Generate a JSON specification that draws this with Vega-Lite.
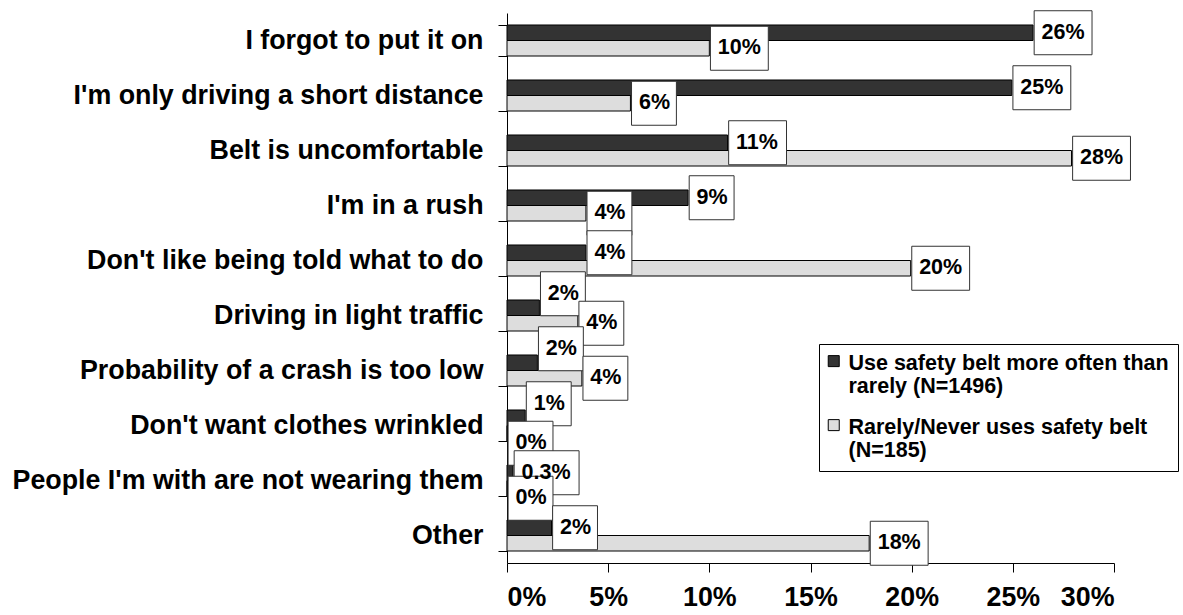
{
  "$schema": "https://vega.github.io/schema/vega-lite/v6.json",
  "width": 607,
  "height": 550,
  "autosize": {"type": "none"},
  "padding": {"left": 507, "top": 13, "right": 69, "bottom": 52},
  "background": "white",
  "config": {
    "view": {"stroke": null},
    "font": "Liberation Sans",
    "axis": {"domainColor": "black", "tickColor": "black", "domainWidth": 1, "tickWidth": 1, "labelColor": "black", "labelFont": "Liberation Sans", "labelFontWeight": "bold"}
  },
  "data": {
    "values": [
      {"category": "I forgot to put it on", "series": "Use safety belt more often than rarely (N=1496)", "value": 26.0, "label": "26%"},
      {"category": "I forgot to put it on", "series": "Rarely/Never uses safety belt (N=185)", "value": 10.0, "label": "10%"},
      {"category": "I'm only driving a short distance", "series": "Use safety belt more often than rarely (N=1496)", "value": 24.95, "label": "25%"},
      {"category": "I'm only driving a short distance", "series": "Rarely/Never uses safety belt (N=185)", "value": 6.1, "label": "6%"},
      {"category": "Belt is uncomfortable", "series": "Use safety belt more often than rarely (N=1496)", "value": 10.9, "label": "11%"},
      {"category": "Belt is uncomfortable", "series": "Rarely/Never uses safety belt (N=185)", "value": 27.9, "label": "28%"},
      {"category": "I'm in a rush", "series": "Use safety belt more often than rarely (N=1496)", "value": 8.95, "label": "9%"},
      {"category": "I'm in a rush", "series": "Rarely/Never uses safety belt (N=185)", "value": 3.9, "label": "4%"},
      {"category": "Don't like being told what to do", "series": "Use safety belt more often than rarely (N=1496)", "value": 3.9, "label": "4%"},
      {"category": "Don't like being told what to do", "series": "Rarely/Never uses safety belt (N=185)", "value": 19.95, "label": "20%"},
      {"category": "Driving in light traffic", "series": "Use safety belt more often than rarely (N=1496)", "value": 1.6, "label": "2%"},
      {"category": "Driving in light traffic", "series": "Rarely/Never uses safety belt (N=185)", "value": 3.5, "label": "4%"},
      {"category": "Probability of a crash is too low", "series": "Use safety belt more often than rarely (N=1496)", "value": 1.5, "label": "2%"},
      {"category": "Probability of a crash is too low", "series": "Rarely/Never uses safety belt (N=185)", "value": 3.7, "label": "4%"},
      {"category": "Don't want clothes wrinkled", "series": "Use safety belt more often than rarely (N=1496)", "value": 0.9, "label": "1%"},
      {"category": "Don't want clothes wrinkled", "series": "Rarely/Never uses safety belt (N=185)", "value": 0, "label": "0%"},
      {"category": "People I'm with are not wearing them", "series": "Use safety belt more often than rarely (N=1496)", "value": 0.3, "label": "0.3%"},
      {"category": "People I'm with are not wearing them", "series": "Rarely/Never uses safety belt (N=185)", "value": 0, "label": "0%"},
      {"category": "Other", "series": "Use safety belt more often than rarely (N=1496)", "value": 2.2, "label": "2%"},
      {"category": "Other", "series": "Rarely/Never uses safety belt (N=185)", "value": 17.9, "label": "18%"}
    ]
  },
  "encoding": {
    "y": {
      "field": "category", "type": "nominal",
      "sort": ["I forgot to put it on", "I'm only driving a short distance", "Belt is uncomfortable", "I'm in a rush", "Don't like being told what to do", "Driving in light traffic", "Probability of a crash is too low", "Don't want clothes wrinkled", "People I'm with are not wearing them", "Other"],
      "scale": {"paddingInner": 0.436, "paddingOuter": 0.218},
      "axis": {"title": null, "labelFontSize": 26.8, "labelPadding": 15, "tickSize": 9, "tickBand": "extent", "labelLimit": 700}
    },
    "yOffset": {"field": "series", "type": "nominal", "sort": ["Use safety belt more often than rarely (N=1496)", "Rarely/Never uses safety belt (N=185)"]},
    "x": {
      "field": "value", "type": "quantitative",
      "scale": {"domain": [0, 30], "nice": false},
      "axis": {"title": null, "values": [0, 5, 10, 15, 20, 25, 30], "labelExpr": "datum.value + '%'", "grid": false, "tickSize": 9, "labelFontSize": 26.8, "labelPadding": 12}
    }
  },
  "layer": [
    {
      "mark": {"type": "bar", "stroke": "black", "strokeWidth": 1},
      "encoding": {
        "color": {
          "field": "series", "type": "nominal",
          "scale": {"domain": ["Use safety belt more often than rarely (N=1496)", "Rarely/Never uses safety belt (N=185)"], "range": ["#333333", "#dddddd"]},
          "legend": {
            "title": null, "orient": "none", "legendX": 312, "legendY": 331,
            "fillColor": "white", "strokeColor": "black", "padding": 9,
            "labelFont": "Liberation Sans", "labelFontSize": 21.5, "labelFontWeight": "bold", "labelColor": "black",
            "labelLimit": 600, "labelBaseline": "middle",
            "labelExpr": "datum.label == 'Use safety belt more often than rarely (N=1496)' ? ['Use safety belt more often than', 'rarely (N=1496)'] : ['Rarely/Never uses safety belt', '(N=185)']",
            "symbolType": "M-1.91,-1.48H0.09V0.52H-1.91Z", "symbolSize": 121, "symbolStrokeColor": "black", "symbolStrokeWidth": 1, "symbolOpacity": 1,
            "labelOffset": -1, "rowPadding": 18
          }
        }
      }
    },
    {
      "mark": {"type": "point", "filled": true, "fill": "white", "stroke": "#333333", "strokeWidth": 1, "size": 1936, "opacity": 1},
      "encoding": {
        "shape": {
          "condition": [
            {"test": "datum.series == 'Use safety belt more often than rarely (N=1496)' && datum.value > 0.5 && datum.value < 2", "value": "M0.05,-1.636H2.09V0.364H0.05Z"},
            {"test": "datum.series == 'Rarely/Never uses safety belt (N=185)' && datum.value == 0", "value": "M0.05,-0.545H2.09V1.455H0.05Z"},
            {"test": "length(datum.label) == 2", "value": "M0.05,-1H2.09V1H0.05Z"},
            {"test": "length(datum.label) == 4", "value": "M0.05,-1H3V1H0.05Z"}
          ],
          "value": "M0.05,-1H2.68V1H0.05Z"
        }
      }
    },
    {
      "transform": [{"filter": "!(datum.series == 'Use safety belt more often than rarely (N=1496)' && datum.value > 0.5 && datum.value < 2) && !(datum.series == 'Rarely/Never uses safety belt (N=185)' && datum.value == 0)"}],
      "mark": {"type": "text", "align": "left", "baseline": "middle", "dx": 8.5, "fontSize": 21.5, "fontWeight": "bold", "font": "Liberation Sans", "color": "black"},
      "encoding": {"text": {"field": "label"}}
    },
    {
      "transform": [{"filter": "datum.series == 'Use safety belt more often than rarely (N=1496)' && datum.value > 0.5 && datum.value < 2"}],
      "mark": {"type": "text", "align": "left", "baseline": "middle", "dx": 8.5, "dy": -14, "fontSize": 21.5, "fontWeight": "bold", "font": "Liberation Sans", "color": "black"},
      "encoding": {"text": {"field": "label"}}
    },
    {
      "transform": [{"filter": "datum.series == 'Rarely/Never uses safety belt (N=185)' && datum.value == 0"}],
      "mark": {"type": "text", "align": "left", "baseline": "middle", "dx": 8.5, "dy": 10, "fontSize": 21.5, "fontWeight": "bold", "font": "Liberation Sans", "color": "black"},
      "encoding": {"text": {"field": "label"}}
    }
  ]
}
